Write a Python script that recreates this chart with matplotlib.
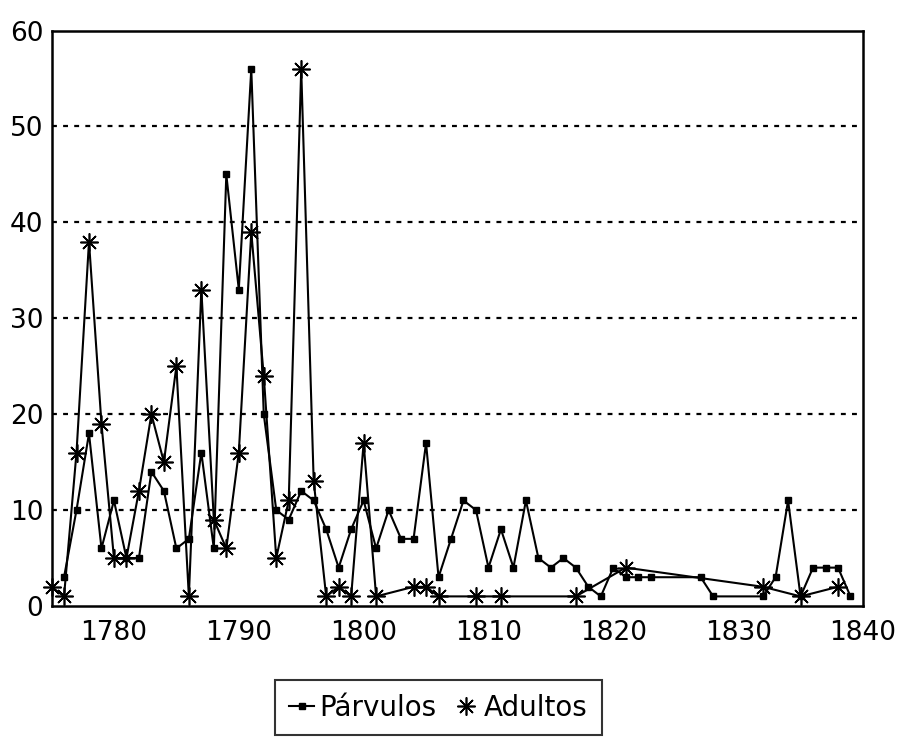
import matplotlib
matplotlib.use("Agg")
import matplotlib.pyplot as plt
from matplotlib.lines import Line2D

# ── Data ─────────────────────────────────────────────────────────────────────
years_parvulos = [1776, 1777, 1778, 1779, 1780, 1781, 1782, 1783, 1784, 1785,
                  1786, 1787, 1788, 1789, 1790, 1791, 1792, 1793, 1794, 1795,
                  1796, 1797, 1798, 1799, 1800, 1801, 1802, 1803, 1804, 1805,
                  1806, 1807, 1808, 1809, 1810, 1811, 1812, 1813, 1814, 1815,
                  1816, 1817, 1818, 1819, 1820, 1821, 1822, 1823, 1827, 1828,
                  1832, 1833, 1834, 1835, 1836, 1837, 1838, 1839]
parvulos = [3, 10, 18, 6, 11, 5, 5, 14, 12, 6,
            7, 16, 6, 45, 33, 56, 20, 10, 9, 12,
            11, 8, 4, 8, 11, 6, 10, 7, 7, 17,
            3, 7, 11, 10, 4, 8, 4, 11, 5, 4,
            5, 4, 2, 1, 4, 3, 3, 3, 3, 1,
            1, 3, 11, 1, 4, 4, 4, 1]

years_adultos = [1775, 1776, 1777, 1778, 1779, 1780, 1781, 1782, 1783, 1784,
                 1785, 1786, 1787, 1788, 1789, 1790, 1791, 1792, 1793, 1794,
                 1795, 1796, 1797, 1798, 1799, 1800, 1801, 1804, 1805, 1806,
                 1809, 1811, 1817, 1821, 1832, 1835, 1838]
adultos = [2, 1, 16, 38, 19, 5, 5, 12, 20, 15,
           25, 1, 33, 9, 6, 16, 39, 24, 5, 11,
           56, 13, 1, 2, 1, 17, 1, 2, 2, 1,
           1, 1, 1, 4, 2, 1, 2]

x_ticks = [1780, 1790, 1800, 1810, 1820, 1830, 1840]
y_ticks = [0, 10, 20, 30, 40, 50, 60]

# ── Plot ──────────────────────────────────────────────────────────────────────
fig = plt.figure(figsize=(9.01, 7.44), dpi=100)
ax = fig.add_axes([0.0572, 0.1855, 0.9006, 0.7734])

asterisk = (8, 2, 0)

ax.plot(years_parvulos, parvulos, color="black", lw=1.5,
        marker="s", markersize=4.5, clip_on=False, zorder=3)
ax.plot(years_adultos, adultos, color="black", lw=1.5,
        marker=asterisk, markersize=13, markeredgewidth=1.2,
        clip_on=False, zorder=3)

# dashed horizontal grid
for yv in y_ticks[1:-1]:
    ax.axhline(yv, color="black", lw=1.6, linestyle=(0, (2.2, 2.8)), zorder=1)

ax.set_xlim(1775, 1840)
ax.set_ylim(0, 60)
ax.set_xticks(x_ticks)
ax.set_yticks(y_ticks)
ax.tick_params(length=0, labelsize=19)
ax.tick_params(axis="x", pad=10)
ax.tick_params(axis="y", pad=6)
for spine in ax.spines.values():
    spine.set_linewidth(1.8)
    spine.set_color("black")

# legend: line+square for Párvulos, bare asterisk for Adultos
handles = [
    Line2D([], [], color="black", lw=1.5, marker="s", markersize=4.5),
    Line2D([], [], color="black", lw=0, marker=asterisk, markersize=13,
           markeredgewidth=1.2),
]
leg = fig.legend(handles, ["Párvulos", "Adultos"], loc="center",
                 bbox_to_anchor=(0.4867, 0.049), ncol=2, fontsize=20,
                 frameon=True, fancybox=False, handlelength=0.9,
                 handletextpad=0.2, columnspacing=0.6, borderpad=0.5)
leg.get_frame().set_edgecolor("black")
leg.get_frame().set_linewidth(1.5)

plt.savefig("out.png", dpi=100, facecolor="white")
